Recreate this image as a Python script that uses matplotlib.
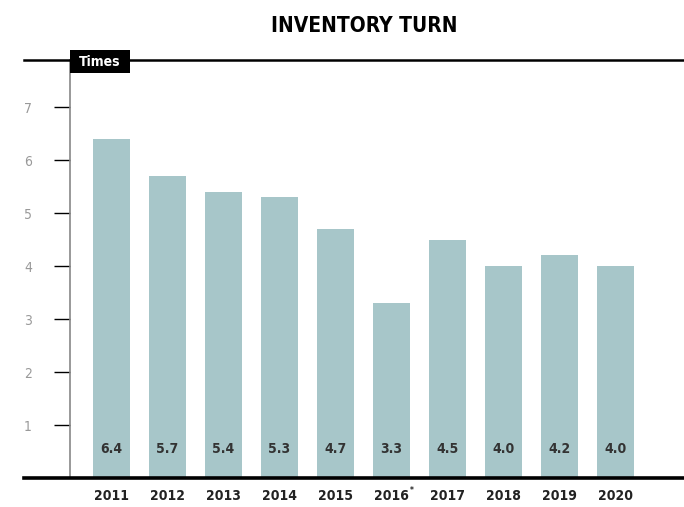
import matplotlib.pyplot as plt
from matplotlib.lines import Line2D
from matplotlib.patches import Rectangle

years = ['2011', '2012', '2013', '2014', '2015', '2016', '2017', '2018', '2019', '2020']
turns = [6.4, 5.7, 5.4, 5.3, 4.7, 3.3, 4.5, 4.0, 4.2, 4.0]
yticks = [1, 2, 3, 4, 5, 6, 7]

plt.rcParams['font.family'] = ['DejaVu Sans']
plt.rcParams['font.stretch'] = 'condensed'

fig = plt.figure(figsize=(6.84, 5.07), dpi=100)
ax = fig.add_axes([70 / 684, 1 - 478 / 507, 1 - 70 / 684, (478 - 60) / 507])

x = list(range(len(years)))
ax.bar(x, turns, width=0.66, color='#a7c6c9')
for xi, v in zip(x, turns):
    ax.text(xi, 0.55, f'{v:.1f}', ha='center', va='center',
            fontsize=10, fontweight='bold', color='#333333')

ax.set_xlim(-0.741, 10.22)
ax.set_ylim(0, 7.89)
ax.set_yticks(yticks)
ax.tick_params(axis='y', length=11.5, width=1, color='black', pad=16,
               labelsize=10, labelcolor='#999999')
ax.set_xticks(x)
ax.set_xticklabels(years, fontsize=10, fontweight='bold', color='#222222')
ax.tick_params(axis='x', length=0, pad=8)
# footnote mark on 2016
ax.text(5.32, -0.15, '*', ha='left', va='top',
        fontsize=6, fontweight='bold', color='#222222', clip_on=False)

for side in ['top', 'right', 'bottom']:
    ax.spines[side].set_visible(False)
ax.spines['left'].set_color('#888888')
ax.spines['left'].set_linewidth(1.2)

# top and bottom rules extend left of the axis
fig.add_artist(Line2D([24 / 684, 1], [1 - 60 / 507, 1 - 60 / 507], color='black', lw=1.8))
fig.add_artist(Line2D([24 / 684, 1], [1 - 477.5 / 507, 1 - 477.5 / 507], color='black', lw=2.6))

# "Times" tag
fig.add_artist(Rectangle((70 / 684, 1 - 73 / 507), 60 / 684, 23 / 507,
                         facecolor='black', edgecolor='none', transform=fig.transFigure))
fig.text(100 / 684, 1 - 61.5 / 507, 'Times', ha='center', va='center',
         color='white', fontsize=10, fontweight='bold')

fig.text(364 / 684, 1 - 26 / 507, 'INVENTORY TURN', ha='center', va='center',
         fontsize=15, fontweight='bold', color='black')

fig.savefig('out.png', dpi=100)
